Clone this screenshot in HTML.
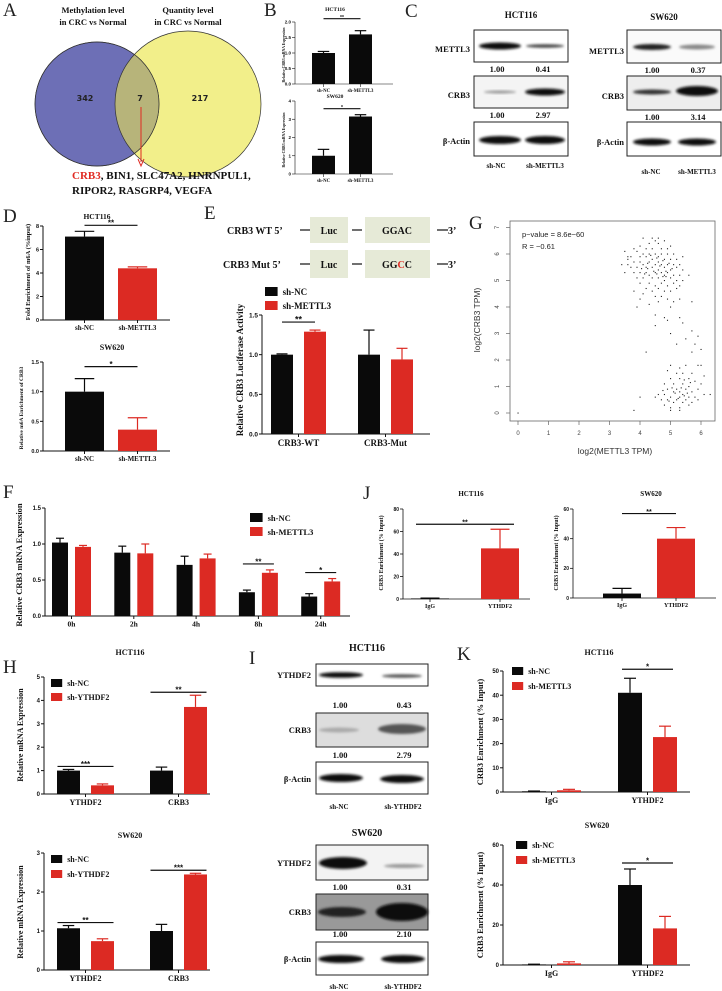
<!DOCTYPE html>
<html><head><meta charset="utf-8"><style>
html,body{margin:0;padding:0;background:#fff;}
svg{display:block;}
.s{font-family:"Liberation Serif",serif;font-weight:bold;fill:#111;}
.n{font-family:"Liberation Sans",sans-serif;font-weight:bold;fill:#111;}
.L{font-family:"Liberation Serif",serif;font-size:19px;fill:#222;}
</style></head><body>
<svg id="fig" xmlns="http://www.w3.org/2000/svg" width="722" height="991" viewBox="0 0 722 991">
<defs><filter id="bl" x="-20%" y="-50%" width="140%" height="200%"><feGaussianBlur stdDeviation="1.3"/></filter></defs>
<rect width="722" height="991" fill="#fff"/>
<!-- Panel labels -->
<text class="L" x="3" y="16">A</text>
<text class="L" x="264" y="16">B</text>
<text class="L" x="405" y="17">C</text>
<text class="L" x="3" y="222">D</text>
<text class="L" x="204" y="219">E</text>
<text class="L" x="469" y="229">G</text>
<text class="L" x="3" y="498">F</text>
<text class="L" x="363" y="499">J</text>
<text class="L" x="3" y="673">H</text>
<text class="L" x="249" y="664">I</text>
<text class="L" x="457" y="660">K</text>

<!-- Venn A -->
<g>
<text class="s" x="93" y="13" font-size="8.5" text-anchor="middle">Methylation level</text>
<text class="s" x="93" y="25" font-size="8.5" text-anchor="middle">in CRC vs Normal</text>
<text class="s" x="188" y="13" font-size="8.5" text-anchor="middle">Quantity level</text>
<text class="s" x="188" y="25" font-size="8.5" text-anchor="middle">in CRC vs Normal</text>
<circle cx="188" cy="104" r="73" fill="#f2ef8a" stroke="#333" stroke-width="0.7"/>
<circle cx="97" cy="104" r="62" fill="#6d6fb6" stroke="#333" stroke-width="0.7"/>
<clipPath id="cb"><circle cx="97" cy="104" r="62"/></clipPath>
<circle cx="188" cy="104" r="73" fill="#b7b47a" clip-path="url(#cb)" stroke="#333" stroke-width="0.7"/>
<circle cx="97" cy="104" r="62" fill="none" stroke="#333" stroke-width="0.7"/>
<text x="85" y="101" font-family="DejaVu Sans,sans-serif" font-size="8" font-weight="bold" fill="#222" text-anchor="middle">342</text>
<text x="140" y="101" font-family="DejaVu Sans,sans-serif" font-size="8" font-weight="bold" fill="#222" text-anchor="middle">7</text>
<text x="200" y="101" font-family="DejaVu Sans,sans-serif" font-size="8" font-weight="bold" fill="#222" text-anchor="middle">217</text>
<line x1="141" y1="107" x2="141" y2="162" stroke="#e02a22" stroke-width="1"/>
<path d="M138,159 L141,166 L144,159" fill="none" stroke="#e02a22" stroke-width="1"/>
<text class="s" x="72" y="179" font-size="11"><tspan fill="#e02a22">CRB3</tspan>, BIN1, SLC47A2, HNRNPUL1,</text>
<text class="s" x="72" y="194" font-size="11">RIPOR2, RASGRP4, VEGFA</text>
</g>

<!-- Blots C -->
<g>
<text class="s" x="521" y="18" font-size="9" text-anchor="middle">HCT116</text>
<text class="s" x="664" y="20" font-size="9" text-anchor="middle">SW620</text>
<rect x="474" y="30" width="94" height="32" fill="#fff" stroke="#222"/>
<rect x="474" y="76" width="94" height="32" fill="#f4f4f4" stroke="#222"/>
<rect x="474" y="122" width="94" height="34" fill="#fff" stroke="#222"/>
<ellipse cx="500" cy="46" rx="21" ry="3.5" fill="#111" filter="url(#bl)"/>
<ellipse cx="545" cy="46" rx="19" ry="1.8" fill="#444" filter="url(#bl)"/>
<ellipse cx="500" cy="92" rx="16" ry="1.5" fill="#999" filter="url(#bl)"/>
<ellipse cx="545" cy="92" rx="20" ry="3.5" fill="#111" filter="url(#bl)"/>
<ellipse cx="500" cy="140" rx="21" ry="4" fill="#111" filter="url(#bl)"/>
<ellipse cx="545" cy="140" rx="20" ry="4" fill="#111" filter="url(#bl)"/>
<text class="s" x="470" y="52" font-size="8.5" text-anchor="end">METTL3</text>
<text class="s" x="470" y="98" font-size="8.5" text-anchor="end">CRB3</text>
<text class="s" x="470" y="144" font-size="8.5" text-anchor="end">β-Actin</text>
<text class="s" x="497" y="72" font-size="8.5" text-anchor="middle">1.00</text>
<text class="s" x="543" y="72" font-size="8.5" text-anchor="middle">0.41</text>
<text class="s" x="497" y="118" font-size="8.5" text-anchor="middle">1.00</text>
<text class="s" x="543" y="118" font-size="8.5" text-anchor="middle">2.97</text>
<text class="s" x="496" y="168" font-size="7" text-anchor="middle">sh-NC</text>
<text class="s" x="545" y="168" font-size="7" text-anchor="middle">sh-METTL3</text>
<rect x="627" y="30" width="94" height="33" fill="#fafafa" stroke="#222"/>
<rect x="627" y="76" width="94" height="34" fill="#eee" stroke="#222"/>
<rect x="627" y="122" width="94" height="34" fill="#fff" stroke="#222"/>
<ellipse cx="652" cy="47" rx="19" ry="3" fill="#222" filter="url(#bl)"/>
<ellipse cx="697" cy="47" rx="18" ry="2.5" fill="#888" filter="url(#bl)"/>
<ellipse cx="652" cy="92" rx="19" ry="2.5" fill="#333" filter="url(#bl)"/>
<ellipse cx="697" cy="91" rx="21" ry="5" fill="#0a0a0a" filter="url(#bl)"/>
<ellipse cx="652" cy="142" rx="19" ry="3.5" fill="#111" filter="url(#bl)"/>
<ellipse cx="697" cy="142" rx="19" ry="3.5" fill="#111" filter="url(#bl)"/>
<text class="s" x="624" y="54" font-size="8.5" text-anchor="end">METTL3</text>
<text class="s" x="624" y="99" font-size="8.5" text-anchor="end">CRB3</text>
<text class="s" x="624" y="145" font-size="8.5" text-anchor="end">β-Actin</text>
<text class="s" x="652" y="73" font-size="8.5" text-anchor="middle">1.00</text>
<text class="s" x="698" y="73" font-size="8.5" text-anchor="middle">0.37</text>
<text class="s" x="652" y="120" font-size="8.5" text-anchor="middle">1.00</text>
<text class="s" x="698" y="120" font-size="8.5" text-anchor="middle">3.14</text>
<text class="s" x="651" y="174" font-size="7" text-anchor="middle">sh-NC</text>
<text class="s" x="697" y="174" font-size="7" text-anchor="middle">sh-METTL3</text>
</g>

<!-- Blots I -->
<g>
<text class="s" x="367" y="651" font-size="10" text-anchor="middle">HCT116</text>
<rect x="316" y="664" width="112" height="22" fill="#fff" stroke="#222"/>
<rect x="316" y="713" width="112" height="34" fill="#ddd" stroke="#222"/>
<rect x="316" y="762" width="112" height="32" fill="#fff" stroke="#222"/>
<ellipse cx="341" cy="675" rx="22" ry="2.8" fill="#111" filter="url(#bl)"/>
<ellipse cx="402" cy="676" rx="20" ry="1.8" fill="#555" filter="url(#bl)"/>
<ellipse cx="339" cy="730" rx="20" ry="2.5" fill="#aaa" filter="url(#bl)"/>
<ellipse cx="402" cy="729" rx="24" ry="5" fill="#555" filter="url(#bl)"/>
<ellipse cx="341" cy="778" rx="22" ry="4" fill="#111" filter="url(#bl)"/>
<ellipse cx="402" cy="779" rx="22" ry="4" fill="#111" filter="url(#bl)"/>
<text class="s" x="311" y="678" font-size="8.5" text-anchor="end">YTHDF2</text>
<text class="s" x="311" y="733" font-size="8.5" text-anchor="end">CRB3</text>
<text class="s" x="311" y="782" font-size="8.5" text-anchor="end">β-Actin</text>
<text class="s" x="340" y="708" font-size="8.5" text-anchor="middle">1.00</text>
<text class="s" x="404" y="708" font-size="8.5" text-anchor="middle">0.43</text>
<text class="s" x="340" y="758" font-size="8.5" text-anchor="middle">1.00</text>
<text class="s" x="404" y="758" font-size="8.5" text-anchor="middle">2.79</text>
<text class="s" x="339" y="809" font-size="7" text-anchor="middle">sh-NC</text>
<text class="s" x="403" y="809" font-size="7" text-anchor="middle">sh-YTHDF2</text>
<text class="s" x="367" y="836" font-size="10" text-anchor="middle">SW620</text>
<rect x="316" y="845" width="112" height="35" fill="#f3f3f3" stroke="#222"/>
<rect x="316" y="894" width="112" height="36" fill="#999" stroke="#222"/>
<rect x="316" y="942" width="112" height="33" fill="#fff" stroke="#222"/>
<ellipse cx="343" cy="863" rx="24" ry="6" fill="#111" filter="url(#bl)"/>
<ellipse cx="404" cy="866" rx="20" ry="2" fill="#999" filter="url(#bl)"/>
<ellipse cx="342" cy="912" rx="24" ry="5" fill="#222" filter="url(#bl)"/>
<ellipse cx="402" cy="912" rx="26" ry="9" fill="#0c0c0c" filter="url(#bl)"/>
<ellipse cx="341" cy="959" rx="23" ry="4" fill="#111" filter="url(#bl)"/>
<ellipse cx="403" cy="959" rx="22" ry="4" fill="#111" filter="url(#bl)"/>
<text class="s" x="311" y="866" font-size="8.5" text-anchor="end">YTHDF2</text>
<text class="s" x="311" y="915" font-size="8.5" text-anchor="end">CRB3</text>
<text class="s" x="311" y="962" font-size="8.5" text-anchor="end">β-Actin</text>
<text class="s" x="340" y="890" font-size="8.5" text-anchor="middle">1.00</text>
<text class="s" x="404" y="890" font-size="8.5" text-anchor="middle">0.31</text>
<text class="s" x="340" y="937" font-size="8.5" text-anchor="middle">1.00</text>
<text class="s" x="404" y="937" font-size="8.5" text-anchor="middle">2.10</text>
<text class="s" x="339" y="989" font-size="7" text-anchor="middle">sh-NC</text>
<text class="s" x="403" y="989" font-size="7" text-anchor="middle">sh-YTHDF2</text>
</g>

<!-- E constructs -->
<g>
<text class="s" x="227" y="234" font-size="10">CRB3 WT  5’</text>
<line x1="300" y1="230" x2="310" y2="230" stroke="#111" stroke-width="1.2"/>
<rect x="310" y="217" width="38" height="26" fill="#e6ead7"/>
<text class="s" x="329" y="234" font-size="10" text-anchor="middle">Luc</text>
<line x1="352" y1="230" x2="362" y2="230" stroke="#111" stroke-width="1.2"/>
<rect x="365" y="217" width="65" height="26" fill="#e6ead7"/>
<text class="s" x="397" y="234" font-size="10" text-anchor="middle">GGAC</text>
<line x1="437" y1="230" x2="448" y2="230" stroke="#111" stroke-width="1.2"/>
<text class="s" x="448" y="234" font-size="10">3’</text>
<text class="s" x="223" y="268" font-size="10">CRB3 Mut  5’</text>
<line x1="300" y1="264" x2="310" y2="264" stroke="#111" stroke-width="1.2"/>
<rect x="310" y="250" width="38" height="28" fill="#e6ead7"/>
<text class="s" x="329" y="268" font-size="10" text-anchor="middle">Luc</text>
<line x1="352" y1="264" x2="362" y2="264" stroke="#111" stroke-width="1.2"/>
<rect x="365" y="250" width="65" height="28" fill="#e6ead7"/>
<text class="s" x="397" y="268" font-size="10" text-anchor="middle">GG<tspan fill="#e02a22">C</tspan>C</text>
<line x1="437" y1="264" x2="448" y2="264" stroke="#111" stroke-width="1.2"/>
<text class="s" x="448" y="268" font-size="10">3’</text>
</g>
<g id="charts"></g>
</svg>
<script>
// ---------- DATA ----------
const B1_cats=['sh-NC','sh-METTL3'];
const B1_vals=[1.0,1.6];
const B1_errs=[0.05,0.12];
const B1_ticks=[0,0.5,1.0,1.5,2.0];
const B1_tickLabels=['0.0','0.5','1.0','1.5','2.0'];
const B2_vals=[1.0,3.15];
const B2_errs=[0.35,0.1];
const B2_ticks=[0,1,2,3,4];
const B2_tickLabels=['0','1','2','3','4'];

const D1_cats=['sh-NC','sh-METTL3'];
const D1_vals=[7.1,4.4];
const D1_errs=[0.45,0.12];
const D1_ticks=[0,2,4,6,8];
const D1_tickLabels=['0','2','4','6','8'];
const D2_vals=[1.0,0.36];
const D2_errs=[0.22,0.2];
const D2_ticks=[0,0.5,1.0,1.5];
const D2_tickLabels=['0.0','0.5','1.0','1.5'];

const E_cats=['CRB3-WT','CRB3-Mut'];
const E_nc=[1.0,1.0];
const E_ncErr=[0.01,0.31];
const E_sh=[1.29,0.94];
const E_shErr=[0.02,0.14];
const E_ticks=[0,0.5,1.0,1.5];
const E_tickLabels=['0.0','0.5','1.0','1.5'];

const F_cats=['0h','2h','4h','8h','24h'];
const F_nc=[1.02,0.88,0.71,0.33,0.27];
const F_ncErr=[0.06,0.09,0.12,0.03,0.04];
const F_sh=[0.96,0.87,0.80,0.60,0.48];
const F_shErr=[0.02,0.13,0.06,0.04,0.04];
const F_ticks=[0,0.5,1.0,1.5];
const F_tickLabels=['0.0','0.5','1.0','1.5'];
const F_sigCats=[3,4];
const F_sigText=['**','*'];

const J1_cats=['IgG','YTHDF2'];
const J1_vals=[0.5,45];
const J1_errs=[0.3,17];
const J1_ticks=[0,20,40,60,80];
const J2_vals=[3,40];
const J2_errs=[3.5,7.5];
const J2_ticks=[0,20,40,60];

const H_cats=['YTHDF2','CRB3'];
const H1_nc=[1.0,1.0];
const H1_ncErr=[0.05,0.15];
const H1_sh=[0.37,3.72];
const H1_shErr=[0.06,0.5];
const H1_ticks=[0,1,2,3,4,5];
const H1_sigText=['***','**'];
const H2_nc=[1.07,1.0];
const H2_ncErr=[0.07,0.17];
const H2_sh=[0.74,2.45];
const H2_shErr=[0.06,0.03];
const H2_ticks=[0,1,2,3];
const H2_sigText=['**','***'];

const K_cats=['IgG','YTHDF2'];
const K1_nc=[0.3,41];
const K1_ncErr=[0.1,6];
const K1_sh=[0.7,22.7];
const K1_shErr=[0.4,4.5];
const K1_ticks=[0,10,20,30,40,50];
const K2_nc=[0.3,40];
const K2_ncErr=[0.1,8];
const K2_sh=[0.8,18.3];
const K2_shErr=[0.8,6];
const K2_ticks=[0,20,40,60];

const G_xTicks=[0,1,2,3,4,5,6];
const G_yTicks=[0,1,2,3,4,5,6,7];
const G_pts=[[4.1,6.6],[4.5,6.5],[4.8,6.5],[4.3,6.4],[4.6,6.4],[5.0,6.3],[4.0,6.3],[4.2,6.2],[4.4,6.2],[4.7,6.2],[4.9,6.2],[3.8,6.2],[3.5,6.1],[3.9,6.1],[4.1,6.0],[4.3,6.0],[4.5,6.0],[4.7,6.0],[4.9,6.0],[5.1,6.0],[3.6,5.9],[3.7,5.9],[4.0,5.9],[4.2,5.9],[4.4,5.8],[4.6,5.9],[4.8,5.8],[5.0,5.8],[5.2,5.8],[3.4,5.6],[3.6,5.6],[3.8,5.7],[4.0,5.7],[4.1,5.6],[4.3,5.7],[4.5,5.6],[4.6,5.7],[4.7,5.6],[4.9,5.6],[5.1,5.6],[5.3,5.6],[3.7,5.5],[3.9,5.5],[4.2,5.5],[4.4,5.5],[4.6,5.4],[4.8,5.5],[5.0,5.4],[5.2,5.5],[5.4,5.4],[3.5,5.3],[3.8,5.3],[4.0,5.3],[4.2,5.3],[4.3,5.2],[4.5,5.3],[4.7,5.3],[4.8,5.2],[4.9,5.3],[5.1,5.2],[5.3,5.2],[5.6,5.2],[3.9,5.1],[4.1,5.1],[4.4,5.1],[4.6,5.1],[4.8,5.0],[5.0,5.1],[5.2,5.0],[5.4,5.0],[4.0,4.9],[4.3,4.9],[4.5,4.8],[4.7,4.9],[4.9,4.8],[5.1,4.9],[5.3,4.8],[4.2,4.7],[4.4,4.6],[4.6,4.7],[4.8,4.6],[5.0,4.6],[5.2,4.7],[3.8,4.6],[4.1,4.5],[4.5,4.4],[4.7,4.4],[4.9,4.3],[5.1,4.2],[5.3,4.3],[5.7,4.2],[4.0,4.3],[4.3,4.1],[4.6,4.2],[3.9,4.0],[5.0,4.0],[4.4,6.6],[4.6,6.6],[3.6,5.8],[5.4,5.9],[4.25,5.45],[4.55,5.25],[4.75,5.75],[4.35,5.95],[4.65,5.55],[4.85,5.35],[4.15,5.25],[4.95,5.65],[4.45,5.35],[4.55,5.85],[4.05,5.45],[4.85,5.15],[5.05,5.45],[4.25,5.65],[4.75,5.15],
[4.5,3.7],[4.8,3.6],[4.9,3.5],[5.3,3.6],[5.7,3.1],[5.9,2.9],[5.0,3.0],[5.4,3.4],[4.5,3.3],[5.5,2.8],[5.8,2.6],[6.0,2.4],[4.2,2.3],[5.2,2.6],[5.7,2.3],
[5.0,1.8],[5.3,1.7],[5.5,1.8],[5.9,1.8],[6.0,1.8],[4.9,1.6],[5.2,1.5],[5.4,1.5],[5.7,1.5],[6.1,1.4],[5.0,1.3],[5.3,1.3],[5.6,1.3],[5.8,1.2],[4.8,1.1],[5.1,1.1],[5.4,1.1],[5.6,1.0],[6.0,1.1],[4.9,0.9],[5.2,0.9],[5.3,0.8],[5.5,0.9],[5.7,0.8],[5.9,0.9],[4.6,0.7],[4.8,0.7],[5.0,0.6],[5.1,0.8],[5.3,0.6],[5.4,0.7],[5.6,0.6],[5.8,0.6],[6.1,0.7],[6.3,0.7],[4.5,0.6],[4.7,0.5],[4.9,0.5],[5.1,0.4],[5.2,0.5],[5.4,0.4],[5.5,0.5],[5.7,0.4],[5.9,0.5],[4.8,0.3],[5.0,0.2],[5.3,0.2],[5.6,0.3],[5.0,0.1],[5.3,0.1],[4.0,0.6],[3.8,0.1],[0.0,0.0],[5.15,0.75],[5.35,0.95],[5.45,0.65],[5.25,0.55],[5.55,0.75],[5.05,0.95],[4.95,0.45],[5.65,1.15],[5.45,1.25],[4.75,0.85]];

// ---------- RENDER ----------
const NS='http://www.w3.org/2000/svg';
const root=document.getElementById('charts');
const BLACK='#0a0a0a', RED='#dc2a23';
function mk(tag,attrs,parent){const e=document.createElementNS(NS,tag);for(const k in attrs)e.setAttribute(k,attrs[k]);(parent||root).appendChild(e);return e;}
function txt(parent,x,y,s,size,cls,anchor){const t=mk('text',{x:x,y:y,'font-size':size,'class':cls,'text-anchor':anchor||'middle'},parent);t.textContent=s;return t;}

function barChart(c){
  const g=mk('g',{},root);
  
  
  const max=c.ticks[c.ticks.length-1];
  const Y=v=>c.y0-v/max*(c.y0-c.yTop);
  const lw=c.lw||1;
  mk('line',{x1:c.ax,y1:c.yTop,x2:c.ax,y2:c.y0,stroke:'#111','stroke-width':lw},g);
  mk('line',{x1:c.ax,y1:c.y0,x2:c.axEnd,y2:c.y0,stroke:'#111','stroke-width':lw},g);
  c.ticks.forEach((t,i)=>{
    mk('line',{x1:c.ax-3,y1:Y(t),x2:c.ax,y2:Y(t),stroke:'#111','stroke-width':lw},g);
    const lab=txt(g,c.ax-4,Y(t)+c.tf*0.35,c.tickLabels?c.tickLabels[i]:String(t),c.tf,'n','end');
    
  });
  const tops={};
  c.series.forEach((vals,s)=>{
    vals.forEach((v,i)=>{
      const x=c.cx0+i*c.cstep+s*c.bstep;
      const col=c.catColors?c.catColors[i]:c.colors[s];
      const r=mk('rect',{x:x,y:Y(v),width:c.bw,height:c.y0-Y(v),fill:col},g);
      
      
      const e=c.errs[s][i];
      const cx=x+c.bw/2;
      mk('line',{x1:cx,y1:Y(v),x2:cx,y2:Y(v+e),stroke:col,'stroke-width':1.2},g);
      mk('line',{x1:cx-c.bw*0.25,y1:Y(v+e),x2:cx+c.bw*0.25,y2:Y(v+e),stroke:col,'stroke-width':1.2},g);
      tops[s+'_'+i]={cx:cx,top:Y(v+e)};
    });
  });
  c.cats.forEach((cat,i)=>{
    const nS=c.series.length;
    const gc=c.catColors?c.cx0+i*c.cstep+c.bw/2:c.cx0+i*c.cstep+((nS-1)*c.bstep+c.bw)/2;
    mk('line',{x1:gc,y1:c.y0,x2:gc,y2:c.y0+3,stroke:'#111','stroke-width':lw},g);
    const l=txt(g,gc,c.y0+c.cf+3,cat,c.cf,'s','middle');
    
  });
  (c.sigs||[]).forEach(sg=>{
    const a=tops[sg.a],b=tops[sg.b];
    const y=Math.min(a.top,b.top)-sg.dy;
    mk('line',{x1:a.cx-(sg.ext||0),y1:y,x2:b.cx+(sg.ext||0),y2:y,stroke:'#111','stroke-width':1.2},g);
    const st=txt(g,(a.cx+b.cx)/2,y+(sg.fs||7)*0.05,sg.text,sg.fs||7,'n','middle');
    
  });
  if(c.title){const t=txt(g,c.title[0],c.title[1],c.title[2],c.title[3],'s','middle');}
  if(c.ylab){const t=txt(g,c.ylab[0],c.ylab[1],c.ylab[2],c.ylab[3],'s','middle');t.setAttribute('transform','rotate(-90,'+c.ylab[0]+','+c.ylab[1]+')');}
  if(c.legend){c.legend.labels.forEach((lab,k)=>{
    const ly=c.legend.y+k*c.legend.dy;
    const sq=mk('rect',{x:c.legend.x,y:ly-c.legend.s+1,width:c.legend.s*1.4,height:c.legend.s,fill:c.colors[k]},g);
    
    const lt=txt(g,c.legend.x+c.legend.s*1.4+5,ly,lab,c.legend.fs,'s','start');
    
  });}
}

barChart({name:'chart-b-hct116',ax:295,y0:84,yTop:22,ticks:B1_ticks,tickLabels:B1_tickLabels,tf:4.5,cats:B1_cats,cf:4.8,series:[B1_vals],errs:[B1_errs],catColors:[BLACK,BLACK],cx0:312,cstep:37,bstep:0,bw:23,axEnd:393,lw:0.6,
  sigs:[{a:'0_0',b:'0_1',text:'**',dy:12,fs:5,ext:0}],title:[335,11,'HCT116',5.5],ylab:[285,55,'Relative CRB3 mRNA Expression',3.8]});
barChart({name:'chart-b-sw620',ax:295,y0:174,yTop:101,ticks:B2_ticks,tickLabels:B2_tickLabels,tf:4.5,cats:B1_cats,cf:4.8,series:[B2_vals],errs:[B2_errs],catColors:[BLACK,BLACK],cx0:312,cstep:37,bstep:0,bw:23,axEnd:393,lw:0.6,
  sigs:[{a:'0_0',b:'0_1',text:'*',dy:6,fs:5,ext:0}],title:[335,98,'SW620',5.5],ylab:[285,140,'Relative CRB3 mRNA Expression',3.8]});

barChart({name:'chart-d-hct116',ax:43,y0:320,yTop:226,ticks:D1_ticks,tickLabels:D1_tickLabels,tf:5.5,cats:D1_cats,cf:7,series:[D1_vals],errs:[D1_errs],catColors:[BLACK,RED],cx0:65,cstep:53,bstep:0,bw:39,axEnd:170,
  sigs:[{a:'0_0',b:'0_1',text:'**',dy:6,fs:8}],title:[97,219,'HCT116',7.5],ylab:[30,272,'Fold Enrichment of m6A (%input)',6.5]});
barChart({name:'chart-d-sw620',ax:43,y0:451,yTop:362,ticks:D2_ticks,tickLabels:D2_tickLabels,tf:5.5,cats:D1_cats,cf:7,series:[D2_vals],errs:[D2_errs],catColors:[BLACK,RED],cx0:65,cstep:53,bstep:0,bw:39,axEnd:170,
  sigs:[{a:'0_0',b:'0_1',text:'*',dy:12,fs:8}],title:[112,350,'SW620',8],ylab:[23,408,'Relative m6A Enrichment of CRB3',5.5]});

barChart({name:'chart-e-luciferase',ax:262,y0:434,yTop:315,ticks:E_ticks,tickLabels:E_tickLabels,tf:6.5,cats:E_cats,cf:9,series:[E_nc,E_sh],errs:[E_ncErr,E_shErr],colors:[BLACK,RED],cx0:271,cstep:87,bstep:33,bw:22,axEnd:430,
  sigs:[{a:'0_0',b:'1_0',text:'**',dy:8,fs:9,ext:0}],ylab:[243,370,'Relative CRB3 Luciferase Activity',9],
  legend:{labels:['sh-NC','sh-METTL3'],x:265,y:295,dy:14,s:9,fs:9}});

barChart({name:'chart-f-time-course',ax:45,y0:616,yTop:508,ticks:F_ticks,tickLabels:F_tickLabels,tf:6,cats:F_cats,cf:7.5,series:[F_nc,F_sh],errs:[F_ncErr,F_shErr],colors:[BLACK,RED],cx0:52,cstep:62.3,bstep:23,bw:16,axEnd:350,
  sigs:F_sigCats.map((ci,k)=>({a:'0_'+ci,b:'1_'+ci,text:F_sigText[k],dy:6,fs:8,ext:4})),ylab:[22,565,'Relative CRB3 mRNA Expression',8.5],
  legend:{labels:['sh-NC','sh-METTL3'],x:250,y:521,dy:14,s:9,fs:8.5}});

barChart({name:'chart-j-hct116',ax:403,y0:599,yTop:509,ticks:J1_ticks,tf:5,cats:J1_cats,cf:6,series:[J1_vals],errs:[J1_errs],catColors:[BLACK,RED],cx0:411,cstep:70,bstep:0,bw:38,axEnd:530,lw:0.8,
  sigs:[{a:'0_0',b:'0_1',text:'**',dy:5,fs:7,ext:14}],title:[471,496,'HCT116',7],ylab:[383,553,'CRB3 Enrichment (% Input)',6]});
barChart({name:'chart-j-sw620',ax:573,y0:598,yTop:509,ticks:J2_ticks,tf:5,cats:J1_cats,cf:6,series:[J2_vals],errs:[J2_errs],catColors:[BLACK,RED],cx0:603,cstep:54,bstep:0,bw:38,axEnd:716,lw:0.8,
  sigs:[{a:'0_0',b:'0_1',text:'**',dy:14,fs:7,ext:0}],title:[651,496,'SW620',7],ylab:[558,553,'CRB3 Enrichment (% Input)',6]});

barChart({name:'chart-h-hct116',ax:44,y0:794,yTop:677,ticks:H1_ticks,tf:6,cats:H_cats,cf:8,series:[H1_nc,H1_sh],errs:[H1_ncErr,H1_shErr],colors:[BLACK,RED],cx0:57,cstep:93,bstep:34,bw:23,axEnd:210,
  sigs:[{a:'0_0',b:'1_0',text:H1_sigText[0],dy:3,fs:8,ext:11},{a:'0_1',b:'1_1',text:H1_sigText[1],dy:3,fs:8,ext:11}],title:[130,655,'HCT116',8],ylab:[23,735,'Relative  mRNA Expression',8],
  legend:{labels:['sh-NC','sh-YTHDF2'],x:51,y:686,dy:14,s:8,fs:8}});
barChart({name:'chart-h-sw620',ax:44,y0:970,yTop:853,ticks:H2_ticks,tf:6,cats:H_cats,cf:8,series:[H2_nc,H2_sh],errs:[H2_ncErr,H2_shErr],colors:[BLACK,RED],cx0:57,cstep:93,bstep:34,bw:23,axEnd:210,
  sigs:[{a:'0_0',b:'1_0',text:H2_sigText[0],dy:3,fs:8,ext:11},{a:'0_1',b:'1_1',text:H2_sigText[1],dy:3,fs:8,ext:11}],title:[130,838,'SW620',8],ylab:[23,912,'Relative mRNA Expression',8],
  legend:{labels:['sh-NC','sh-YTHDF2'],x:51,y:862,dy:15,s:8,fs:8}});

barChart({name:'chart-k-hct116',ax:503,y0:792,yTop:671,ticks:K1_ticks,tf:6,cats:K_cats,cf:8,series:[K1_nc,K1_sh],errs:[K1_ncErr,K1_shErr],colors:[BLACK,RED],cx0:522,cstep:96,bstep:35,bw:24,axEnd:690,
  sigs:[{a:'0_1',b:'1_1',text:'*',dy:9,fs:8,ext:8}],title:[599,655,'HCT116',8],ylab:[483,732,'CRB3 Enrichment (% Input)',8.5],
  legend:{labels:['sh-NC','sh-METTL3'],x:512,y:674,dy:15,s:8,fs:8}});
barChart({name:'chart-k-sw620',ax:503,y0:965,yTop:845,ticks:K2_ticks,tf:6,cats:K_cats,cf:8,series:[K2_nc,K2_sh],errs:[K2_ncErr,K2_shErr],colors:[BLACK,RED],cx0:522,cstep:96,bstep:35,bw:24,axEnd:690,
  sigs:[{a:'0_1',b:'1_1',text:'*',dy:6,fs:8,ext:8}],title:[597,828,'SW620',8],ylab:[483,905,'CRB3 Enrichment (% Input)',8.5],
  legend:{labels:['sh-NC','sh-METTL3'],x:516,y:848,dy:15,s:8,fs:8}});

// Scatter G
(function(){
  const g=mk('g',{},root);
  
  
  const X=v=>518+v*30.5, Y=v=>413-v*26.5;
  const frame=mk('rect',{x:510,y:221,width:205,height:200,fill:'none',stroke:'#666','stroke-width':0.8},g);
  
  G_xTicks.forEach(t=>{mk('line',{x1:X(t),y1:421,x2:X(t),y2:425,stroke:'#666','stroke-width':0.7},g);
    const l=txt(g,X(t),435,String(t),6,'','middle');l.setAttribute('font-family','Liberation Sans, sans-serif');l.setAttribute('fill','#444');
    });
  G_yTicks.forEach(t=>{mk('line',{x1:506,y1:Y(t),x2:510,y2:Y(t),stroke:'#666','stroke-width':0.7},g);
    const l=txt(g,499,Y(t),String(t),6,'','middle');l.setAttribute('font-family','Liberation Sans, sans-serif');l.setAttribute('fill','#444');l.setAttribute('transform','rotate(-90,499,'+Y(t)+')');
    });
  G_pts.forEach(p=>{const d=mk('rect',{x:X(p[0])-0.5,y:Y(p[1])-0.5,width:1.1,height:1.1,fill:'#222'},g);
    });
  const xl=txt(g,615,454,'log2(METTL3 TPM)',8.5,'','middle');xl.setAttribute('font-family','Liberation Sans, sans-serif');xl.setAttribute('fill','#333');
  
  const yl=txt(g,480,320,'log2(CRB3 TPM)',8.5,'','middle');yl.setAttribute('font-family','Liberation Sans, sans-serif');yl.setAttribute('fill','#333');yl.setAttribute('transform','rotate(-90,480,320)');
  
  const p1=txt(g,522,237,'p\u2212value = 8.6e\u221260',7.5,'','start');p1.setAttribute('font-family','Liberation Sans, sans-serif');p1.setAttribute('fill','#222');
  
  const p2=txt(g,522,249,'R = \u22120.61',7.5,'','start');p2.setAttribute('font-family','Liberation Sans, sans-serif');p2.setAttribute('fill','#222');
  
})();
</script>
</body></html>
